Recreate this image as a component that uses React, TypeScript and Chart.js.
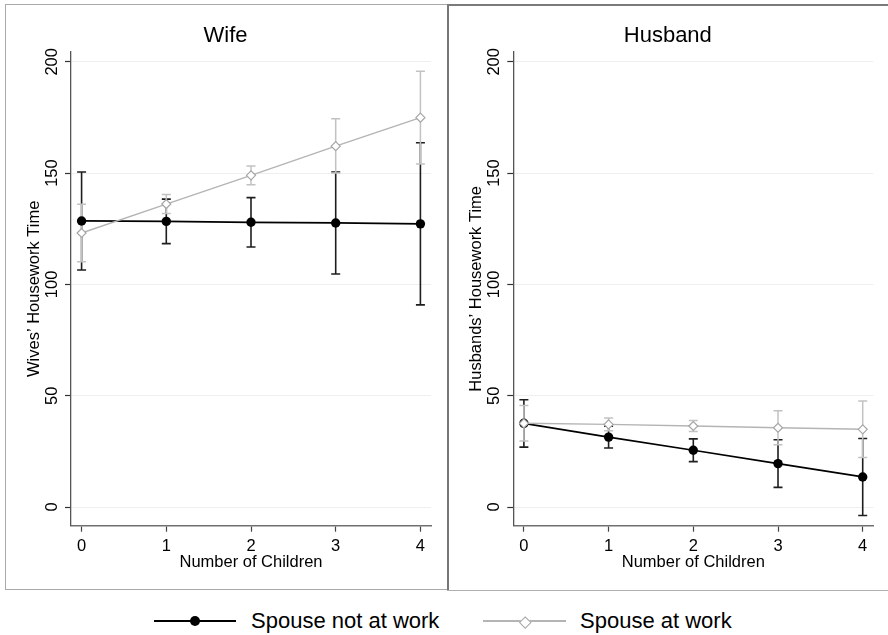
import React, { useEffect, useRef } from 'react';
import { Chart, registerables } from 'chart.js';

Chart.register(...registerables);

// ---- data ----
const children = [0, 1, 2, 3, 4];
const yTicks = [0, 50, 100, 150, 200];

const wifeNotWork = [128.5, 128.3, 127.9, 127.6, 127.2];
const wifeNotWorkLo = [106.5, 118.3, 116.8, 104.7, 90.8];
const wifeNotWorkHi = [150.5, 138.3, 139.0, 150.5, 163.6];
const wifeAtWork = [123.1, 136.1, 149.0, 162.1, 174.9];
const wifeAtWorkLo = [110.2, 131.8, 144.8, 150.0, 154.1];
const wifeAtWorkHi = [136.0, 140.4, 153.2, 174.4, 195.7];

const husbNotWork = [37.6, 31.4, 25.5, 19.5, 13.5];
const husbNotWorkLo = [26.9, 26.5, 20.4, 8.8, -3.8];
const husbNotWorkHi = [48.2, 36.3, 30.6, 30.2, 30.8];
const husbAtWork = [37.6, 37.1, 36.4, 35.6, 34.9];
const husbAtWorkLo = [29.7, 34.2, 33.9, 28.0, 22.2];
const husbAtWorkHi = [45.6, 40.0, 38.9, 43.2, 47.6];

const seriesLabels = ['Spouse not at work', 'Spouse at work'];

const FAMILY = "'Liberation Sans', Arial, Helvetica, sans-serif";

const errorBarPlugin = {
  id: 'errorBars',
  beforeDatasetsDraw(chart: any) {
    const { ctx } = chart;
    const xs = chart.scales.x;
    const ys = chart.scales.y;
    chart.data.datasets.forEach((ds: any) => {
      if (!ds.errLo) return;
      ctx.save();
      ctx.strokeStyle = ds.errColor;
      ctx.lineWidth = ds.errWidth;
      ds.data.forEach((p: any, j: number) => {
        const px = xs.getPixelForValue(p.x);
        const lo = ys.getPixelForValue(ds.errLo[j]);
        const hi = ys.getPixelForValue(ds.errHi[j]);
        const cw = 4.5;
        ctx.beginPath();
        ctx.moveTo(px, lo);
        ctx.lineTo(px, hi);
        ctx.moveTo(px - cw, lo);
        ctx.lineTo(px + cw, lo);
        ctx.moveTo(px - cw, hi);
        ctx.lineTo(px + cw, hi);
        ctx.stroke();
      });
      ctx.restore();
    });
  },
};

type PanelProps = {
  title: string;
  yTitle: string;
  notWork: number[];
  notWorkLo: number[];
  notWorkHi: number[];
  atWork: number[];
  atWorkLo: number[];
  atWorkHi: number[];
  width: number;
  padLeft: number;
  padRight: number;
  left: number;
};

function Panel(props: PanelProps) {
  const ref = useRef<HTMLCanvasElement | null>(null);
  useEffect(() => {
    if (!ref.current) return;
    const tickFont = { family: FAMILY, size: 16.5 };
    const chart = new Chart(ref.current, {
      type: 'line',
      data: {
        datasets: [
          {
            label: seriesLabels[0],
            data: children.map((c, i) => ({ x: c, y: props.notWork[i] })),
            errLo: props.notWorkLo,
            errHi: props.notWorkHi,
            errColor: '#1e1e1e',
            errWidth: 1.6,
            borderColor: '#000',
            borderWidth: 1.7,
            pointRadius: 4.7,
            pointStyle: 'circle',
            pointBackgroundColor: '#000',
            pointBorderColor: '#000',
            pointBorderWidth: 0,
            tension: 0,
            order: 2,
          } as any,
          {
            label: seriesLabels[1],
            data: children.map((c, i) => ({ x: c, y: props.atWork[i] })),
            errLo: props.atWorkLo,
            errHi: props.atWorkHi,
            errColor: '#c2c2c2',
            errWidth: 1.5,
            borderColor: '#b4b4b4',
            borderWidth: 1.4,
            pointRadius: 4.5,
            pointStyle: 'rectRot',
            pointBackgroundColor: '#ffffff',
            pointBorderColor: '#a6a6a6',
            pointBorderWidth: 1.2,
            tension: 0,
            order: 1,
          } as any,
        ],
      },
      options: {
        animation: false,
        responsive: false,
        devicePixelRatio: 1,
        events: [],
        layout: { padding: { left: props.padLeft, right: props.padRight, top: 0, bottom: 0 } },
        plugins: {
          legend: { display: false },
          tooltip: { enabled: false },
          title: {
            display: true,
            text: props.title,
            color: '#000',
            font: { family: FAMILY, size: 22, weight: 'normal', lineHeight: 1.2 },
            padding: { top: 23, bottom: 2.6 },
          },
        },
        scales: {
          x: {
            type: 'linear',
            min: -0.125,
            max: 4.125,
            afterBuildTicks: (s: any) => {
              s.ticks = children.map((v) => ({ value: v }));
            },
            afterFit: (s: any) => {
              s.height = 69.3;
            },
            grid: {
              drawOnChartArea: false,
              drawTicks: true,
              tickLength: 6,
              tickColor: '#444',
              tickWidth: 1.2,
            },
            border: { color: '#707070', width: 1.5 },
            ticks: { font: tickFont, color: '#000', padding: 4.5, maxRotation: 0, autoSkip: false },
            title: {
              display: true,
              text: 'Number of Children',
              color: '#000',
              font: { family: FAMILY, size: 16.5, lineHeight: 1.2 },
              padding: { top: 0, bottom: 22.5 },
            },
          },
          y: {
            type: 'linear',
            min: -8.4,
            max: 204.4,
            afterBuildTicks: (s: any) => {
              s.ticks = yTicks.map((v) => ({ value: v }));
            },
            afterFit: (s: any) => {
              s.width = 51;
            },
            grid: {
              color: '#efefef',
              lineWidth: 1,
              drawTicks: true,
              tickLength: 6,
              tickColor: '#333',
              tickWidth: 1.2,
            },
            border: { color: '#555', width: 1.3 },
            ticks: {
              font: tickFont,
              color: '#000',
              padding: -1,
              minRotation: 90,
              maxRotation: 90,
              crossAlign: 'center',
              autoSkip: false,
            },
            title: {
              display: true,
              text: props.yTitle,
              color: '#000',
              font: { family: FAMILY, size: 16.5, lineHeight: 1.2 },
              padding: { top: 4.1, bottom: 0 },
            },
          },
        },
      } as any,
      plugins: [errorBarPlugin],
    });
    return () => chart.destroy();
  }, []);
  return (
    <canvas
      ref={ref}
      width={props.width}
      height={595}
      style={{ position: 'absolute', left: props.left, top: 0, width: props.width, height: 595 }}
    />
  );
}

export default function App() {
  const legendText: React.CSSProperties = {
    position: 'absolute',
    fontFamily: FAMILY,
    fontSize: 22,
    lineHeight: '22px',
    color: '#000',
    whiteSpace: 'nowrap',
  };
  return (
    <div
      style={{
        position: 'fixed',
        left: 0,
        top: 0,
        width: 888,
        height: 635,
        background: '#fff',
        overflow: 'hidden',
      }}
    >
      <Panel
        title="Wife"
        yTitle="Wives’ Housework Time"
        notWork={wifeNotWork}
        notWorkLo={wifeNotWorkLo}
        notWorkHi={wifeNotWorkHi}
        atWork={wifeAtWork}
        atWorkLo={wifeAtWorkLo}
        atWorkHi={wifeAtWorkHi}
        width={447}
        left={0}
        padLeft={20}
        padRight={16}
      />
      <Panel
        title="Husband"
        yTitle="Husbands’ Housework Time"
        notWork={husbNotWork}
        notWorkLo={husbNotWorkLo}
        notWorkHi={husbNotWorkHi}
        atWork={husbAtWork}
        atWorkLo={husbAtWorkLo}
        atWorkHi={husbAtWorkHi}
        width={441}
        left={447}
        padLeft={15.3}
        padRight={14.7}
      />
      {/* panel borders */}
      <div style={{ position: 'absolute', left: 5, top: 4, width: 443, height: 586, border: '1.5px solid #a9a9a9', borderRight: 'none', boxSizing: 'border-box' }} />
      <div style={{ position: 'absolute', left: 447, top: 4, width: 2, height: 587, background: '#777' }} />
      <div style={{ position: 'absolute', left: 447, top: 4, width: 441, height: 1.5, background: '#7a7a7a' }} />
      <div style={{ position: 'absolute', left: 447, top: 589.5, width: 441, height: 1.5, background: '#b0b0b0' }} />
      {/* legend */}
      <div style={{ position: 'absolute', left: 154, top: 620, width: 82, height: 2, background: '#000' }} />
      <div style={{ position: 'absolute', left: 190, top: 616, width: 10, height: 10, borderRadius: '50%', background: '#000' }} />
      <span style={{ ...legendText, left: 251, top: 610 }}>{seriesLabels[0]}</span>
      <div style={{ position: 'absolute', left: 483, top: 620.25, width: 83, height: 1.5, background: '#b4b4b4' }} />
      <div
        style={{
          position: 'absolute',
          left: 520.5,
          top: 617.5,
          width: 6.5,
          height: 6.5,
          background: '#fff',
          border: '1.1px solid #a6a6a6',
          transform: 'rotate(45deg)',
        }}
      />
      <span style={{ ...legendText, left: 580, top: 610 }}>{seriesLabels[1]}</span>
    </div>
  );
}
